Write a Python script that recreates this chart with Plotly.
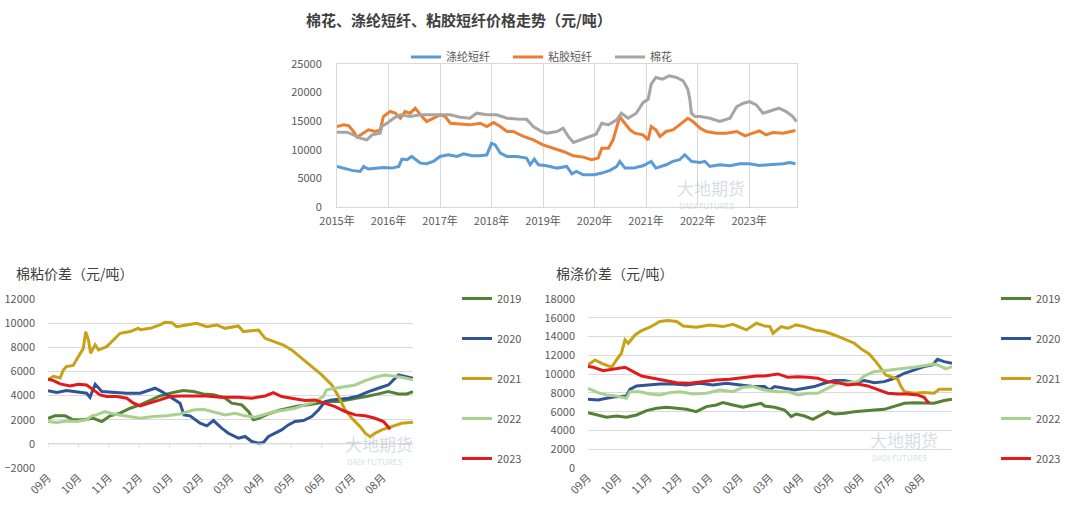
import plotly.graph_objects as go

# ---------------- Top chart: price trends (元/吨) ----------------
year_ticks = [2015, 2016, 2017, 2018, 2019, 2020, 2021, 2022, 2023]
year_labels = ["2015年", "2016年", "2017年", "2018年", "2019年", "2020年", "2021年", "2022年", "2023年"]

polyester_t = [2015.00, 2015.13, 2015.29, 2015.45, 2015.52, 2015.61, 2015.78, 2015.90, 2016.07, 2016.20,
               2016.26, 2016.36, 2016.45, 2016.52, 2016.62, 2016.74, 2016.87, 2017.00, 2017.16, 2017.33,
               2017.46, 2017.62, 2017.78, 2017.91, 2018.00, 2018.07, 2018.17, 2018.30, 2018.49, 2018.68,
               2018.75, 2018.83, 2018.91, 2019.07, 2019.27, 2019.46, 2019.56, 2019.65, 2019.78, 2020.00,
               2020.14, 2020.30, 2020.43, 2020.49, 2020.59, 2020.75, 2020.94, 2021.10, 2021.19, 2021.39,
               2021.52, 2021.65, 2021.75, 2021.88, 2022.05, 2022.14, 2022.24, 2022.43, 2022.63, 2022.82,
               2023.01, 2023.20, 2023.46, 2023.66, 2023.79, 2023.90]
polyester_v = [7090, 6800, 6400, 6220, 7090, 6630, 6800, 6920, 6800, 7090,
               8370, 8260, 8840, 8370, 7670, 7560, 7970, 8840, 9130, 8840,
               9300, 8950, 8950, 9130, 11160, 10870, 9420, 8840, 8840, 8550,
               7380, 8370, 7380, 7210, 6800, 7090, 5810, 6220, 5640, 5640,
               5930, 6400, 7090, 7970, 6800, 6800, 7210, 7970, 6800, 7380,
               7970, 8260, 9130, 7970, 7790, 7970, 7090, 7380, 7210, 7560,
               7560, 7270, 7380, 7560, 7790, 7560]

viscose_t = [2015.00, 2015.13, 2015.23, 2015.32, 2015.39, 2015.52, 2015.61, 2015.74, 2015.84, 2015.90,
             2016.03, 2016.13, 2016.23, 2016.32, 2016.42, 2016.52, 2016.62, 2016.74, 2016.87, 2017.00,
             2017.10, 2017.20, 2017.39, 2017.58, 2017.78, 2017.91, 2018.04, 2018.17, 2018.30, 2018.42,
             2018.62, 2018.81, 2019.00, 2019.20, 2019.39, 2019.59, 2019.78, 2019.94, 2020.07, 2020.14,
             2020.27, 2020.36, 2020.46, 2020.49, 2020.56, 2020.69, 2020.78, 2020.94, 2021.04, 2021.10,
             2021.19, 2021.27, 2021.39, 2021.52, 2021.65, 2021.81, 2021.91, 2022.05, 2022.17, 2022.37,
             2022.56, 2022.76, 2022.92, 2023.09, 2023.20, 2023.33, 2023.46, 2023.66, 2023.79, 2023.90]
viscose_v = [14070, 14360, 14190, 13200, 12210, 12910, 13490, 13200, 13490, 15810,
             16690, 16400, 15520, 16690, 16400, 17270, 16110, 14940, 15520, 16110,
             15810, 14650, 14530, 14360, 14650, 14070, 14770, 14070, 13200, 13200,
             12330, 11740, 10870, 10290, 9710, 8950, 8720, 8260, 8550, 10290,
             10290, 11740, 14650, 15810, 14940, 13490, 12910, 12620, 11740, 14070,
             13490, 12330, 13200, 13490, 14360, 15520, 14940, 13780, 13200, 12910,
             12910, 13200, 12440, 13020, 13310, 12620, 13020, 12910, 13200, 13370]

cotton_t = [2015.00, 2015.19, 2015.32, 2015.45, 2015.58, 2015.68, 2015.84, 2015.87, 2015.97, 2016.10,
            2016.23, 2016.42, 2016.62, 2016.81, 2017.00, 2017.20, 2017.39, 2017.58, 2017.71, 2017.91,
            2018.10, 2018.30, 2018.49, 2018.68, 2018.81, 2018.97, 2019.07, 2019.27, 2019.39, 2019.49,
            2019.59, 2019.72, 2019.90, 2020.03, 2020.14, 2020.27, 2020.43, 2020.52, 2020.65, 2020.81,
            2020.94, 2021.04, 2021.10, 2021.19, 2021.32, 2021.45, 2021.59, 2021.72, 2021.81, 2021.85,
            2021.88, 2021.95, 2022.05, 2022.24, 2022.43, 2022.63, 2022.76, 2022.89, 2023.01, 2023.14,
            2023.27, 2023.46, 2023.58, 2023.72, 2023.85, 2023.92]
cotton_v = [13080, 13080, 12620, 12030, 11740, 12620, 12910, 14070, 14650, 15520,
            16110, 15810, 16110, 16110, 16110, 16110, 15700, 15520, 16400, 16110,
            16110, 15520, 15400, 15350, 14070, 13200, 12910, 13200, 13780, 12330,
            11280, 11740, 12330, 12730, 14650, 14360, 15230, 16400, 15520, 16400,
            18240, 18820, 21470, 22650, 22350, 22940, 22650, 22060, 20590, 18820,
            16400, 15810, 15810, 15520, 14940, 15520, 17560, 18140, 18430, 17850,
            16400, 16980, 17270, 16690, 15810, 14940]

# ---------------- Bottom charts: spreads by season (Sep -> Aug) ----------------
month_ticks = [0, 1, 2, 3, 4, 5, 6, 7, 8, 9, 10, 11]
month_labels = ["09月", "10月", "11月", "12月", "01月", "02月", "03月", "04月", "05月", "06月", "07月", "08月"]
years = ["2019", "2020", "2021", "2022", "2023"]

# 棉粘价差
nz19_x = [0, 0.23, 0.56, 0.83, 1.16, 1.49, 1.77, 2.04, 2.37, 2.7, 3.03, 3.36, 3.68, 4.12, 4.45, 4.78, 5.11, 5.44,
          5.82, 6.04, 6.37, 6.59, 6.75, 6.92, 7.25, 7.57, 7.9, 8.23, 8.56, 8.89, 9.22, 9.55, 9.88, 10.21, 10.54,
          10.86, 11.19, 11.52, 11.8, 12.0]
nz19_y = [2120, 2320, 2320, 1990, 1990, 2120, 1850, 2320, 2540, 2950, 3230, 3640, 3970, 4250, 4410, 4330, 4140, 4060,
          3800, 3370, 3230, 2680, 1990, 2120, 2480, 2760, 2950, 3140, 3230, 3370, 3500, 3500, 3640, 3780, 3970,
          4140, 4330, 4140, 4140, 4330]
nz20_x = [0, 0.29, 0.61, 0.94, 1.27, 1.38, 1.55, 1.77, 2.15, 2.59, 3.03, 3.36, 3.52, 3.74, 4.01, 4.34, 4.47, 4.67,
          5.0, 5.22, 5.44, 5.71, 5.93, 6.04, 6.26, 6.48, 6.7, 6.92, 7.08, 7.25, 7.46, 7.68, 7.9, 8.12, 8.4, 8.67,
          8.89, 9.11, 9.33, 9.6, 9.88, 10.21, 10.54, 10.86, 11.19, 11.52, 11.8, 12.0]
nz20_y = [4410, 4250, 4410, 4330, 4190, 3860, 4940, 4330, 4250, 4190, 4190, 4470, 4610, 4330, 3920, 3370, 2400, 2320,
          1710, 1490, 1930, 1300, 880, 740, 470, 610, 190, 60, 110, 610, 880, 1160, 1570, 1850, 1930, 2260,
          2810, 3500, 3640, 3700, 3780, 3970, 4330, 4610, 4880, 5710, 5520, 5430]
nz21_x = [0, 0.18, 0.4, 0.5, 0.6, 0.83, 1.0, 1.16, 1.24, 1.33, 1.4, 1.55, 1.66, 1.93, 2.15, 2.37, 2.7, 2.97, 3.03,
          3.36, 3.68, 3.85, 4.07, 4.23, 4.56, 4.89, 5.22, 5.55, 5.82, 6.26, 6.42, 6.92, 7.14, 7.46, 7.74, 8.01,
          8.34, 8.67, 9.0, 9.33, 9.55, 9.77, 9.99, 10.26, 10.43, 10.59, 10.75, 10.97, 11.3, 11.63, 12.0]
nz21_y = [5300, 5600, 5450, 6100, 6400, 6500, 7230, 7900, 9300, 8600, 7500, 8200, 7780, 8050, 8600, 9160, 9300, 9570,
          9450, 9570, 9850, 10070, 10040, 9700, 9850, 9990, 9700, 9850, 9570, 9770, 9300, 9430, 8740, 8470, 8190,
          7780, 7090, 6400, 5710, 4880, 3920, 2810, 2120, 1430, 880, 600, 880, 1160, 1430, 1710, 1790]
nz22_x = [0, 0.29, 0.61, 0.94, 1.27, 1.44, 1.6, 1.87, 2.15, 2.59, 3.03, 3.46, 3.9, 4.34, 4.78, 5.11, 5.44, 5.82,
          6.15, 6.48, 6.81, 7.14, 7.46, 7.79, 8.12, 8.45, 8.78, 9.05, 9.16, 9.44, 9.77, 10.1, 10.43, 10.75, 11.08,
          11.3, 11.63, 12.0]
nz22_y = [1850, 1770, 1900, 1850, 1990, 2320, 2400, 2680, 2480, 2320, 2120, 2260, 2320, 2480, 2810, 2870, 2680, 2400,
          2540, 2320, 2210, 2480, 2680, 2810, 2950, 3230, 3500, 3920, 4470, 4610, 4740, 4880, 5240, 5520, 5710,
          5630, 5520, 5300]
nz23_x = [0, 0.18, 0.4, 0.72, 1.0, 1.27, 1.49, 1.71, 1.93, 2.26, 2.59, 2.81, 3.03, 3.36, 3.68, 4.01, 4.34, 4.78,
          5.22, 5.66, 6.26, 6.7, 7.14, 7.41, 7.68, 8.01, 8.45, 8.78, 9.11, 9.44, 9.77, 10.1, 10.43, 10.75, 11.03,
          11.19, 11.25]
nz23_y = [5350, 5240, 4970, 4800, 4940, 4880, 4470, 4060, 3920, 3920, 3780, 3370, 3140, 3370, 3640, 3920, 3970, 3970,
          3970, 3860, 3860, 3780, 3970, 4250, 3920, 3780, 3590, 3640, 3370, 3090, 2680, 2400, 2320, 2120, 1850,
          1430, 1210]

# 棉涤价差
md19_x = [0, 0.29, 0.61, 0.94, 1.27, 1.6, 1.93, 2.26, 2.59, 2.92, 3.25, 3.57, 3.9, 4.23, 4.45, 4.78, 5.11, 5.44,
          5.71, 5.82, 6.15, 6.48, 6.7, 6.86, 7.14, 7.41, 7.68, 7.9, 8.12, 8.45, 8.78, 9.11, 9.44, 9.77, 10.1,
          10.43, 10.75, 11.08, 11.41, 11.74, 12.0]
md19_y = [5900, 5650, 5400, 5540, 5400, 5650, 6110, 6360, 6470, 6360, 6250, 6000, 6540, 6710, 6960, 6710, 6470, 6710,
          6890, 6600, 6470, 6180, 5470, 5750, 5540, 5190, 5650, 6000, 5750, 5830, 6000, 6110, 6180, 6250, 6540,
          6890, 6960, 6890, 6890, 7180, 7320]
md20_x = [0, 0.33, 0.61, 0.94, 1.27, 1.38, 1.6, 1.93, 2.37, 2.81, 3.25, 3.68, 4.12, 4.56, 5.0, 5.44, 5.82, 5.98,
          6.15, 6.48, 6.81, 7.14, 7.46, 7.79, 8.12, 8.45, 8.78, 9.11, 9.44, 9.77, 10.1, 10.43, 10.75, 11.08, 11.36,
          11.52, 11.74, 12.0]
md20_y = [7320, 7250, 7420, 7600, 7670, 8380, 8740, 8850, 8950, 8950, 8850, 9020, 8850, 9020, 8850, 8670, 8670, 8310,
          8670, 8490, 8310, 8490, 8670, 9020, 9310, 9310, 9090, 9310, 9090, 9200, 9560, 10090, 10450, 10800, 10980,
          11580, 11330, 11150]
md21_x = [0, 0.23, 0.45, 0.78, 0.94, 1.1, 1.22, 1.33, 1.55, 1.77, 2.04, 2.37, 2.64, 2.92, 3.14, 3.57, 4.01, 4.45,
          4.78, 5.22, 5.55, 5.82, 6.0, 6.1, 6.37, 6.59, 6.86, 7.14, 7.46, 7.79, 8.12, 8.45, 8.78, 9.05, 9.27, 9.49,
          9.66, 9.82, 10.04, 10.21, 10.32, 10.43, 10.75, 11.08, 11.41, 11.58, 12.0]
md21_y = [10980, 11510, 11150, 10730, 11510, 12220, 13640, 13290, 14170, 14640, 14990, 15600, 15700, 15600, 15130,
          14990, 15240, 15060, 15310, 14710, 15420, 15130, 15060, 14350, 15060, 14880, 15240, 15060, 14710, 14530,
          14170, 13710, 13290, 12580, 12150, 11330, 10620, 9910, 9660, 9450, 8670, 8130, 7960, 8030, 7960, 8380, 8380]
md22_x = [0, 0.33, 0.61, 0.94, 1.27, 1.38, 1.71, 2.04, 2.37, 2.7, 3.03, 3.46, 3.9, 4.34, 4.78, 5.11, 5.44, 5.82,
          6.26, 6.59, 6.92, 7.25, 7.57, 7.9, 8.23, 8.56, 8.89, 9.11, 9.44, 9.77, 10.1, 10.43, 10.75, 11.08, 11.41,
          11.58, 11.8, 12.0]
md22_y = [8490, 8030, 7780, 7670, 7420, 8130, 8130, 7890, 7780, 8030, 8130, 7890, 7960, 8310, 8130, 8600, 8670, 8310,
          8130, 8130, 7780, 7960, 7960, 8490, 9020, 9090, 9200, 9800, 10270, 10370, 10520, 10620, 10730, 10870,
          11080, 10900, 10550, 10800]
md23_x = [0, 0.18, 0.5, 0.83, 1.22, 1.49, 1.77, 2.15, 2.48, 2.92, 3.36, 3.79, 4.23, 4.67, 5.11, 5.55, 5.82, 6.26,
          6.59, 6.92, 7.25, 7.57, 7.9, 8.23, 8.56, 8.89, 9.22, 9.55, 9.88, 10.21, 10.54, 10.86, 11.08, 11.19, 11.25]
md23_y = [10800, 10730, 10370, 10520, 10730, 10270, 9800, 9560, 9380, 9090, 9020, 9200, 9380, 9450, 9660, 9800, 9800,
          10020, 9660, 9730, 9660, 9560, 9200, 9090, 8850, 8950, 8740, 8310, 7960, 7890, 7890, 7780, 7530, 7070, 6960]

year_colors = ["#548235", "#2f5597", "#c9a114", "#a9d18e", "#e3191c"]
top_colors = ["#5b9bd5", "#ed7d31", "#a5a5a5"]

FONT = "Noto Sans CJK SC, Noto Sans, sans-serif"
TICK = dict(family=FONT, size=11, color="#595959")
GRID = "#d9d9d9"

fig = go.Figure()

# top chart
for name, xs, ys, col in [("涤纶短纤", polyester_t, polyester_v, top_colors[0]),
                          ("粘胶短纤", viscose_t, viscose_v, top_colors[1]),
                          ("棉花", cotton_t, cotton_v, top_colors[2])]:
    fig.add_trace(go.Scatter(x=xs, y=ys, mode="lines", name=name, line=dict(color=col, width=3),
                             xaxis="x", yaxis="y", legend="legend"))

nz_series = [(nz19_x, nz19_y), (nz20_x, nz20_y), (nz21_x, nz21_y), (nz22_x, nz22_y), (nz23_x, nz23_y)]
md_series = [(md19_x, md19_y), (md20_x, md20_y), (md21_x, md21_y), (md22_x, md22_y), (md23_x, md23_y)]

for i, (yr, (xs, ys)) in enumerate(zip(years, nz_series)):
    fig.add_trace(go.Scatter(x=xs, y=ys, mode="lines", name=yr, line=dict(color=year_colors[i], width=3),
                             xaxis="x2", yaxis="y2", legend="legend2", legendgroup="nz" + yr))
for i, (yr, (xs, ys)) in enumerate(zip(years, md_series)):
    fig.add_trace(go.Scatter(x=xs, y=ys, mode="lines", name=yr, line=dict(color=year_colors[i], width=3),
                             xaxis="x3", yaxis="y3", legend="legend3", legendgroup="md" + yr))

H = 507.0
W = 1080.0

def py(p):
    return 1 - p / H

def px(p):
    return p / W

common_axis = dict(automargin=False, zeroline=False, ticks="", tickfont=TICK)

fig.update_layout(
    template="none",
    width=1080, height=507,
    margin=dict(l=0, r=0, t=0, b=0, pad=0, autoexpand=False),
    paper_bgcolor="white", plot_bgcolor="white",
    font=dict(family=FONT, size=11, color="#595959"),
    xaxis=dict(domain=[px(337), px(797)], range=[2015, 2023.93], tickvals=year_ticks, ticktext=year_labels,
               showgrid=True, gridcolor=GRID, gridwidth=1, showline=True, linecolor=GRID, mirror=True,
               anchor="y", ticklabelstandoff=4, **common_axis),
    yaxis=dict(domain=[py(207), py(64)], range=[0, 25000], dtick=5000, tickformat="d", showgrid=False,
               showline=True, linecolor=GRID, mirror=True, anchor="x", ticklabelstandoff=12, **common_axis),
    xaxis2=dict(domain=[px(48), px(413)], range=[0, 12], tickvals=month_ticks, ticktext=month_labels,
                tickangle=-45, showgrid=False, showline=False, anchor="y2", **common_axis),
    yaxis2=dict(domain=[py(468), py(299)], range=[-2000, 12000], dtick=2000, tickformat="d", showgrid=True,
                gridcolor=GRID, showline=False, anchor="x2", ticklabelstandoff=12, **common_axis),
    xaxis3=dict(domain=[px(588), px(952)], range=[0, 12], tickvals=month_ticks, ticktext=month_labels,
                tickangle=-45, showgrid=False, showline=False, anchor="y3", **common_axis),
    yaxis3=dict(domain=[py(468), py(299)], range=[0, 18000], dtick=2000, tickformat="d", showgrid=True,
                gridcolor=GRID, showline=False, anchor="x3", ticklabelstandoff=12, **common_axis),
    legend=dict(orientation="h", x=px(406), xanchor="left", y=py(57), yanchor="middle",
                font=dict(family=FONT, size=11, color="#595959"), bgcolor="rgba(0,0,0,0)",
                entrywidth=57, entrywidthmode="pixels"),
    legend2=dict(orientation="v", x=px(457), xanchor="left", y=py(284), yanchor="top",
                 font=dict(family=FONT, size=11, color="#595959"), bgcolor="rgba(0,0,0,0)",
                 tracegroupgap=21),
    legend3=dict(orientation="v", x=px(996), xanchor="left", y=py(284), yanchor="top",
                 font=dict(family=FONT, size=11, color="#595959"), bgcolor="rgba(0,0,0,0)",
                 tracegroupgap=21),
    showlegend=True,
)

# tick marks on the category axes (at the zero line)
shapes = []
for m in month_ticks + [12]:
    shapes.append(dict(type="line", xref="x2", yref="y2", x0=m, x1=m, y0=0, y1=-300,
                       line=dict(color=GRID, width=1)))
    shapes.append(dict(type="line", xref="x3", yref="y3", x0=m, x1=m, y0=0, y1=-400,
                       line=dict(color=GRID, width=1)))
shapes.append(dict(type="line", xref="x2", yref="y2", x0=0, x1=12, y0=0, y1=0, line=dict(color=GRID, width=1)))
fig.update_layout(shapes=shapes)

annotations = [
    dict(text="<b>棉花、涤纶短纤、粘胶短纤价格走势（元/吨）</b>", x=px(304), y=py(20), xref="paper", yref="paper",
         xanchor="left", yanchor="middle", showarrow=False, font=dict(family=FONT, size=15, color="#404040")),
    dict(text="棉粘价差（元/吨）", x=px(14), y=py(273), xref="paper", yref="paper",
         xanchor="left", yanchor="middle", showarrow=False, font=dict(family=FONT, size=14, color="#404040")),
    dict(text="棉涤价差（元/吨）", x=px(554), y=py(273), xref="paper", yref="paper",
         xanchor="left", yanchor="middle", showarrow=False, font=dict(family=FONT, size=14, color="#404040")),
]
# watermarks
for (wx, wy) in [(675, 187), (343, 443), (868, 439)]:
    annotations.append(dict(text="大地期货", x=px(wx), y=py(wy), xref="paper", yref="paper", xanchor="left",
                            yanchor="middle", showarrow=False,
                            font=dict(family=FONT, size=17, color="rgba(180,192,205,0.55)")))
    annotations.append(dict(text="DADI FUTURES", x=px(wx + 2), y=py(wy + 18), xref="paper", yref="paper",
                            xanchor="left", yanchor="middle", showarrow=False,
                            font=dict(family=FONT, size=8, color="rgba(180,192,205,0.55)")))
fig.update_layout(annotations=annotations)

fig.write_html("out.html", config={"displayModeBar": False},
               post_script="document.body.style.margin='0';")
